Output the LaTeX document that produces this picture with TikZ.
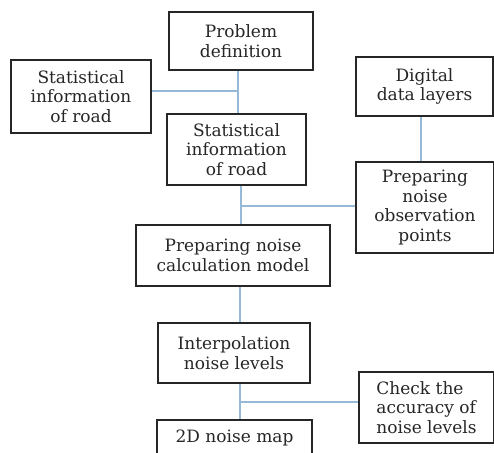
\documentclass[tikz,border=0pt]{standalone}
\usepackage{fontspec}
\setmainfont{DejaVu Serif}
\begin{document}
\begin{tikzpicture}[x=1pt,y=-1pt,
  box/.style={draw=black!85,line width=1.3pt,fill=white,align=center,inner sep=0pt,
    font=\fontsize{17}{19.5}\selectfont,text=black!85},
  link/.style={draw={rgb,255:red,150;green,185;blue,215},line width=1.2pt}]
\useasboundingbox (0,0) rectangle (494,452);
\node[box,minimum width=144pt,minimum height=58pt] (prob) at (241,41) {Problem\\definition};
\node[box,minimum width=140pt,minimum height=73pt] (statL) at (81,96.5) {Statistical\\information\\of road};
\node[box,minimum width=139pt,minimum height=71pt] (statM) at (236.5,149.5) {Statistical\\information\\of road};
\node[box,minimum width=137pt,minimum height=59pt] (dig) at (424.5,86.5) {Digital\\data layers};
\node[box,minimum width=138pt,minimum height=91pt] (obs) at (425,207.5) {Preparing\\noise\\observation\\points};
\node[box,minimum width=194pt,minimum height=61pt] (calc) at (233,255.5) {Preparing noise\\calculation model};
\node[box,minimum width=152pt,minimum height=60pt] (interp) at (234,353) {Interpolation\\noise levels};
\node[box,minimum width=155pt,minimum height=40pt,text depth=8pt] (map) at (234.5,440) {2D noise map};
\node[box,minimum width=135pt,minimum height=71pt,align=left] (chk) at (426.5,407.5) {Check the\\accuracy of\\noise levels};
\coordinate (j1) at (238,91);
\coordinate (j2) at (241,206);
\coordinate (j3) at (240,402);
\draw[link] (j1 |- prob.south) -- (j1 |- statM.north);
\draw[link] (statL.east |- j1) -- (j1);
\draw[link] (dig.south -| 421,0) -- (obs.north -| 421,0);
\draw[link] (j2 |- statM.south) -- (j2 |- calc.north);
\draw[link] (obs.west |- j2) -- (j2);
\draw[link] (j3 |- calc.south) -- (j3 |- interp.north);
\draw[link] (j3 |- interp.south) -- (j3 |- map.north);
\draw[link] (chk.west |- j3) -- (j3);
\end{tikzpicture}
\end{document}
